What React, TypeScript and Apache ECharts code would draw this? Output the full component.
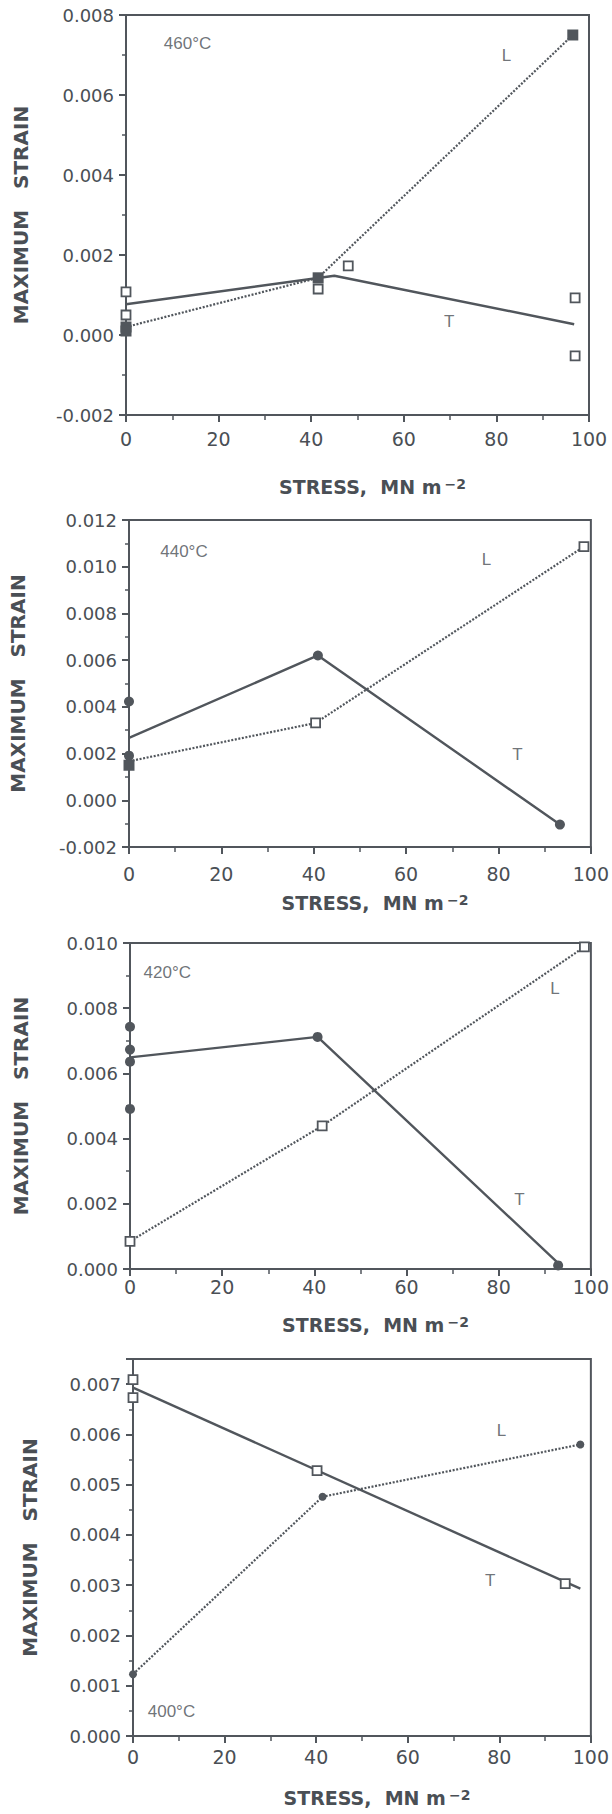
import React, { useEffect, useRef } from 'react';
import * as echarts from 'echarts';

// ---------- data (x = stress MN m^-2, y = maximum strain) ----------
const xTickLabels = ['0', '20', '40', '60', '80', '100'];

// Panel 1 : 460°C
const p1YRange = [-0.002, 0.008];
const p1TLine = [[0, 0.00077], [45, 0.00148], [96.8, 0.00027]];
const p1LLine = [[0, 0.0002], [41.5, 0.00143], [96.5, 0.0075]];
const p1FilledSquares = [[0, 0.0002], [0, 0.0001], [41.5, 0.00143], [96.5, 0.0075]];
const p1FilledCircles: number[][] = [];
const p1OpenSquares = [[0, 0.00108], [0, 0.0005], [41.5, 0.00115], [48, 0.00173], [97, 0.00093], [97, -0.00052]];
const p1Notes = [
  { name: '460°C', value: [13.3, 0.0073] },
  { name: 'L', value: [82.2, 0.007] },
  { name: 'T', value: [69.8, 0.00033] },
];

// Panel 2 : 440°C
const p2YRange = [-0.002, 0.012];
const p2TLine = [[0, 0.00267], [40.9, 0.0062], [93.3, -0.00104]];
const p2LLine = [[0, 0.00167], [40.4, 0.00331], [98.5, 0.01086]];
const p2FilledSquares = [[0, 0.0015]];
const p2FilledCircles = [[0, 0.00423], [0, 0.00191], [40.9, 0.0062], [93.3, -0.00104]];
const p2OpenSquares = [[40.4, 0.00331], [98.5, 0.01086]];
const p2Notes = [
  { name: '440°C', value: [11.9, 0.01065] },
  { name: 'L', value: [77.4, 0.0103] },
  { name: 'T', value: [84.1, 0.00195] },
];

// Panel 3 : 420°C
const p3YRange = [0, 0.01];
const p3TLine = [[0, 0.00649], [40.7, 0.00712], [92.9, 0.00018]];
const p3LLine = [[0, 0.00085], [41.7, 0.00439], [98.6, 0.00988]];
const p3FilledSquares: number[][] = [];
const p3FilledCircles = [[0, 0.00743], [0, 0.00673], [0, 0.00636], [0, 0.00491], [40.7, 0.00712], [92.9, 0.00011]];
const p3OpenSquares = [[0, 0.00085], [41.7, 0.00439], [98.6, 0.00988]];
const p3Notes = [
  { name: '420°C', value: [8.1, 0.0091] },
  { name: 'L', value: [92.2, 0.0086] },
  { name: 'T', value: [84.5, 0.00212] },
];

// Panel 4 : 400°C
const p4YRange = [0, 0.0075];
const p4TLine = [[0, 0.00693], [97.7, 0.00293]];
const p4LLine = [[0, 0.00123], [41.4, 0.00476], [97.7, 0.0058]];
const p4FilledSquares: number[][] = [];
const p4FilledCircles = [[0, 0.00123], [41.4, 0.00476], [97.7, 0.0058]];
const p4OpenSquares = [[0, 0.00709], [0, 0.00673], [40.2, 0.00528], [94.4, 0.00303]];
const p4Notes = [
  { name: '400°C', value: [8.4, 0.00048] },
  { name: 'L', value: [80.5, 0.00608] },
  { name: 'T', value: [78, 0.0031] },
];

// ---------- styling ----------
const INK = '#51565c';
const TEXT = '#4a4f55';
const FONT = "'DejaVu Sans', 'Liberation Sans', Arial, sans-serif";
const NOTE_FONT = "'Liberation Sans', Arial, Helvetica, sans-serif";

const panels = [
  {
    grid: { left: 126, top: 15, width: 463, height: 400 },
    yRange: p1YRange, yInterval: 0.002, tLine: p1TLine, lLine: p1LLine,
    filledSquares: p1FilledSquares, filledCircles: p1FilledCircles, openSquares: p1OpenSquares, notes: p1Notes,
    xLabelMargin: 14, xNameGap: 62, yNameGap: 95, circleSize: 9,
  },
  {
    grid: { left: 128, top: 520, width: 465, height: 327 },
    yRange: p2YRange, yInterval: 0.002, tLine: p2TLine, lLine: p2LLine,
    filledSquares: p2FilledSquares, filledCircles: p2FilledCircles, openSquares: p2OpenSquares, notes: p2Notes,
    xLabelMargin: 17, xNameGap: 46, yNameGap: 101, circleSize: 10,
  },
  {
    grid: { left: 130, top: 943, width: 465, height: 326 },
    yRange: p3YRange, yInterval: 0.002, tLine: p3TLine, lLine: p3LLine,
    filledSquares: p3FilledSquares, filledCircles: p3FilledCircles, openSquares: p3OpenSquares, notes: p3Notes,
    xLabelMargin: 8, xNameGap: 46, yNameGap: 99, circleSize: 10,
  },
  {
    grid: { left: 133, top: 1359, width: 463, height: 377 },
    yRange: p4YRange, yInterval: 0.001, tLine: p4TLine, lLine: p4LLine,
    filledSquares: p4FilledSquares, filledCircles: p4FilledCircles, openSquares: p4OpenSquares, notes: p4Notes,
    xLabelMargin: 11, xNameGap: 52, yNameGap: 93, circleSize: 8,
  },
];

function buildOption() {
  const series: any[] = [];
  panels.forEach((p, i) => {
    series.push({
      type: 'line', xAxisIndex: i, yAxisIndex: i, data: p.tLine, symbol: 'none', z: 3,
      lineStyle: { color: INK, width: 2.4, type: 'solid' },
    });
    series.push({
      type: 'line', xAxisIndex: i, yAxisIndex: i, data: p.lLine, symbol: 'none', z: 3,
      lineStyle: { color: INK, width: 2.2, type: [2, 1.6] },
    });
    if (p.filledSquares.length) {
      series.push({
        type: 'scatter', xAxisIndex: i, yAxisIndex: i, data: p.filledSquares, symbol: 'rect', symbolSize: 11, z: 5,
        itemStyle: { color: INK, opacity: 1 },
      });
    }
    if (p.filledCircles.length) {
      series.push({
        type: 'scatter', xAxisIndex: i, yAxisIndex: i, data: p.filledCircles, symbol: 'circle', symbolSize: p.circleSize, z: 5,
        itemStyle: { color: INK, opacity: 1 },
      });
    }
    if (p.openSquares.length) {
      series.push({
        type: 'scatter', xAxisIndex: i, yAxisIndex: i, data: p.openSquares, symbol: 'rect', symbolSize: 9, z: 6,
        itemStyle: { color: '#ffffff', borderColor: INK, borderWidth: 1.8, opacity: 1 },
      });
    }
    series.push({
      type: 'scatter', xAxisIndex: i, yAxisIndex: i, data: p.notes, symbolSize: 0, z: 7, silent: true,
      label: { show: true, position: 'inside', formatter: '{b}', color: TEXT, fontSize: 17, fontFamily: NOTE_FONT },
    });
  });

  return {
    animation: false,
    backgroundColor: '#ffffff',
    textStyle: { fontFamily: FONT },
    grid: panels.map((p) => ({ ...p.grid, show: true, borderColor: INK, borderWidth: 2, backgroundColor: 'transparent' })),
    xAxis: panels.map((p, i) => ({
      type: 'value', gridIndex: i, min: 0, max: 100, interval: 20,
      axisLine: { show: true, onZero: false, lineStyle: { color: INK, width: 2 } },
      axisTick: { show: true, inside: false, length: 7, lineStyle: { color: INK, width: 2 } },
      minorTick: { show: true, splitNumber: 2, length: 5, lineStyle: { color: INK, width: 1.5 } },
      splitLine: { show: false },
      minorSplitLine: { show: false },
      axisLabel: {
        color: TEXT, fontSize: 19, margin: p.xLabelMargin, fontFamily: FONT,
        formatter: (v: number) => xTickLabels[Math.round(v / 20)] ?? '',
      },
      name: '{a|STRESS,  MN m}{s|−2}',
      nameLocation: 'middle',
      nameGap: p.xNameGap,
      nameTextStyle: {
        color: TEXT, fontSize: 19, fontWeight: 'bold', fontFamily: FONT, padding: [0, 0, 0, 30],
        rich: {
          a: { color: TEXT, fontSize: 19, fontWeight: 'bold', fontFamily: FONT },
          s: { color: TEXT, fontSize: 14, fontWeight: 'bold', fontFamily: FONT, verticalAlign: 'top', padding: [0, 0, 0, 3] },
        },
      },
    })),
    yAxis: panels.map((p, i) => ({
      type: 'value', gridIndex: i, min: p.yRange[0], max: p.yRange[1], interval: p.yInterval,
      axisLine: { show: true, onZero: false, lineStyle: { color: INK, width: 2 } },
      axisTick: { show: true, inside: false, length: 7, lineStyle: { color: INK, width: 2 } },
      minorTick: { show: true, splitNumber: 2, length: 4, lineStyle: { color: INK, width: 1.5 } },
      splitLine: { show: false },
      minorSplitLine: { show: false },
      axisLabel: {
        color: TEXT, fontSize: 18, margin: 12, fontFamily: FONT, showMaxLabel: i === 3 ? false : true,
        formatter: (v: number) => v.toFixed(3),
      },
      name: 'MAXIMUM   STRAIN',
      nameLocation: 'middle',
      nameGap: p.yNameGap,
      nameRotate: 90,
      nameTextStyle: { color: TEXT, fontSize: 20, fontWeight: 'bold', fontFamily: FONT },
    })),
    series,
  };
}

export default function App() {
  const ref = useRef<HTMLDivElement>(null);
  useEffect(() => {
    if (!ref.current) return;
    const chart = echarts.init(ref.current, undefined, { renderer: 'svg' });
    chart.setOption(buildOption() as any);
    return () => chart.dispose();
  }, []);
  return (
    <div
      ref={ref}
      style={{ position: 'absolute', left: 0, top: 0, width: 612, height: 1814, background: '#ffffff' }}
    />
  );
}
